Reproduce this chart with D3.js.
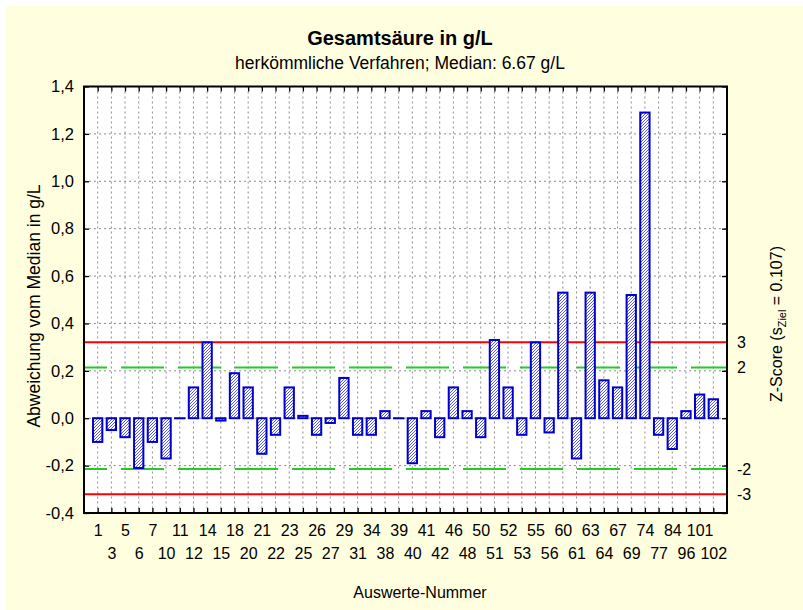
<!DOCTYPE html>
<html>
<head>
<meta charset="utf-8">
<script src="https://cdn.jsdelivr.net/npm/d3@7"></script>
<style>
  html, body { margin: 0; padding: 0; background: #fff; }
  svg { display: block; font-family: "Liberation Sans", Arial, Helvetica, sans-serif; }
</style>
</head>
<body>
<div id="chart"></div>
<script>
// data
const categories = ["1","3","5","6","7","10","11","12","14","15",
                    "18","20","21","22","23","25","26","27","29","31",
                    "34","38","39","40","41","42","46","48","50","51",
                    "52","53","55","56","60","61","63","64","67","69",
                    "74","77","84","96","101","102"];
const deviations = [-0.10,-0.05,-0.08,-0.21,-0.10,-0.17, 0.00, 0.13, 0.32,-0.01,
                     0.19, 0.13,-0.15,-0.07, 0.13, 0.01,-0.07,-0.02, 0.17,-0.07,
                    -0.07, 0.03, 0.00,-0.19, 0.03,-0.08, 0.13, 0.03,-0.08, 0.33,
                     0.13,-0.07, 0.32,-0.06, 0.53,-0.17, 0.53, 0.16, 0.13, 0.52,
                     1.29,-0.07,-0.13, 0.03, 0.10, 0.08];
const yTicks = [-0.4,-0.2,0,0.2,0.4,0.6,0.8,1.0,1.2,1.4];
const sZiel = 0.107;
const zLimits = [3, -3];     // red
const zWarnings = [2, -2];   // green dashed
const zLabels = [3, 2, -2, -3];

const title = "Gesamtsäure in g/L";
const subtitle = "herkömmliche Verfahren; Median: 6.67 g/L";
const xTitle = "Auswerte-Nummer";
const yTitle = "Abweichung vom Median in g/L";

const W = 803, H = 610;
const m = { top: 86.5, right: 76, bottom: 97, left: 84 };

const svg = d3.select("#chart").append("svg")
    .attr("width", W).attr("height", H);

// background
svg.append("rect").attr("x", 6).attr("y", 6)
    .attr("width", W - 6).attr("height", H - 6)
    .attr("fill", "#ffffe0");

const x = d3.scalePoint().domain(categories)
    .range([m.left, W - m.right]).padding(1);
const y = d3.scaleLinear().domain([-0.4, 1.4])
    .range([H - m.bottom, m.top]);

const plotW = W - m.right - m.left, plotH = H - m.bottom - m.top;

// hatch pattern for bars
const defs = svg.append("defs");
const pat = defs.append("pattern").attr("id", "hatch")
    .attr("patternUnits", "userSpaceOnUse").attr("width", 3).attr("height", 3);
pat.append("rect").attr("width", 3).attr("height", 3).attr("fill", "#ffffff");
pat.append("path").attr("d", "M-1,1 l2,-2 M0,3 l3,-3 M2,4 l2,-2")
    .attr("stroke", "#4a4ae8").attr("stroke-width", 0.9);

svg.append("rect").attr("x", m.left).attr("y", m.top)
    .attr("width", plotW).attr("height", plotH).attr("fill", "#fff");

// grid
svg.append("g").selectAll("line").data(categories).join("line")
    .attr("x1", d => x(d)).attr("x2", d => x(d))
    .attr("y1", m.top).attr("y2", H - m.bottom)
    .attr("stroke", "#8c8c8c").attr("stroke-dasharray", "2,3");
svg.append("g").selectAll("line").data(yTicks).join("line")
    .attr("x1", m.left).attr("x2", W - m.right)
    .attr("y1", d => y(d)).attr("y2", d => y(d))
    .attr("stroke", "#8c8c8c").attr("stroke-dasharray", "2,3");

// limit lines
svg.append("g").selectAll("line").data(zWarnings).join("line")
    .attr("x1", m.left).attr("x2", W - m.right)
    .attr("y1", d => y(d * sZiel)).attr("y2", d => y(d * sZiel))
    .attr("stroke", "#22cc22").attr("stroke-width", 2)
    .attr("stroke-dasharray", "43,14").attr("stroke-dashoffset", 20);
svg.append("g").selectAll("line").data(zLimits).join("line")
    .attr("x1", m.left).attr("x2", W - m.right)
    .attr("y1", d => y(d * sZiel)).attr("y2", d => y(d * sZiel))
    .attr("stroke", "#ff0000").attr("stroke-width", 2);

// bars
const bw = x.step() * 0.68;
svg.append("g").selectAll("rect").data(categories).join("rect")
    .attr("x", d => x(d) - bw / 2)
    .attr("y", (d, i) => y(Math.max(0, deviations[i])))
    .attr("width", bw)
    .attr("height", (d, i) => Math.max(0.1, Math.abs(y(deviations[i]) - y(0))))
    .attr("fill", "url(#hatch)")
    .attr("stroke", "#0000cc").attr("stroke-width", 2);

// axes
const fmt = d => d3.format(".1f")(d).replace("−", "-").replace(".", ",");

svg.append("g").attr("transform", `translate(${m.left},0)`)
    .call(d3.axisLeft(y).tickValues(yTicks).tickSize(-5).tickPadding(10).tickFormat(fmt))
    .call(g => g.select(".domain").remove())
    .call(g => g.selectAll("text").attr("font-size", 16.5).attr("fill", "#000")
        .attr("font-family", "Liberation Sans, Arial, sans-serif"));
svg.append("g").attr("transform", `translate(${W - m.right},0)`)
    .call(d3.axisRight(y).tickValues(yTicks).tickSize(-5).tickFormat(""))
    .call(g => g.select(".domain").remove());
svg.append("g").attr("transform", `translate(0,${m.top})`)
    .call(d3.axisTop(x).tickSize(-5).tickFormat(""))
    .call(g => g.select(".domain").remove());
svg.append("g").attr("transform", `translate(0,${H - m.bottom})`)
    .call(d3.axisBottom(x).tickSize(-5).tickPadding(12))
    .call(g => g.select(".domain").remove())
    .call(g => g.selectAll("text").attr("font-size", 16).attr("fill", "#000")
        .attr("font-family", "Liberation Sans, Arial, sans-serif")
        .attr("dy", (d, i) => i % 2 ? "2.15em" : "0.71em"));
svg.selectAll(".tick line").attr("stroke", "#000").attr("stroke-width", 1.3);

// frame
svg.append("rect").attr("x", m.left).attr("y", m.top)
    .attr("width", plotW).attr("height", plotH)
    .attr("fill", "none").attr("stroke", "#000").attr("stroke-width", 2);

// z-score labels on the right
svg.append("g").selectAll("text").data(zLabels).join("text")
    .attr("x", W - m.right + 10).attr("y", d => y(d * sZiel))
    .attr("dy", "0.35em").attr("font-size", 16).text(d => d);

// titles
svg.append("text").attr("x", 400).attr("y", 45).attr("text-anchor", "middle")
    .attr("font-size", 20).attr("font-weight", "bold").text(title);
svg.append("text").attr("x", 400).attr("y", 69).attr("text-anchor", "middle")
    .attr("font-size", 17.5).text(subtitle);
svg.append("text").attr("x", 420).attr("y", 598).attr("text-anchor", "middle")
    .attr("font-size", 16).text(xTitle);
svg.append("text").attr("transform", "translate(40,306) rotate(-90)")
    .attr("text-anchor", "middle").attr("font-size", 17.5).text(yTitle);

const zt = svg.append("text").attr("transform", "translate(782,324) rotate(-90)")
    .attr("text-anchor", "middle").attr("font-size", 16);
zt.append("tspan").text("Z-Score (s");
zt.append("tspan").attr("font-size", 11).attr("dy", 4).text("Ziel");
zt.append("tspan").attr("dy", -4).text(" = " + sZiel + ")");
</script>
</body>
</html>
